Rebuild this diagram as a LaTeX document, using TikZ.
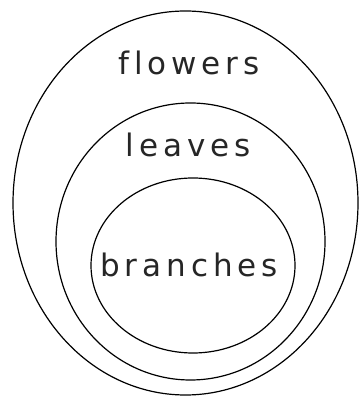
\documentclass[tikz,border=0pt]{standalone}
\usepackage{fontspec}
\setsansfont{DejaVu Sans}[LetterSpace=16, Ligatures={NoCommon}]
\usepackage{tikz}
\usetikzlibrary{shapes.geometric, positioning}

\begin{document}
\begin{tikzpicture}[x=1pt, y=1pt, every node/.style={font=\sffamily\fontsize{31}{31}\selectfont}]
    % Styles
    \tikzstyle{ring} = [ellipse, draw=black, line width=1.2pt, inner sep=0pt]
    \tikzstyle{tag} = [anchor=base, inner sep=0pt, text=black!85]

    \useasboundingbox (0,0) rectangle (362,401);

    % Sets
    \node[ring, minimum width=345pt, minimum height=384pt] (flowerset) at (185.5,198) {};
    \node[ring, minimum width=269pt, minimum height=277pt] (leafset) at (190.5,159.5) {};
    \node[ring, minimum width=204pt, minimum height=175pt] (branchset) at (193,135.5) {};

    % Labels
    \node[tag] (flowers) at (189,326) {flowers};
    \node[tag] (leaves) at (188,244) {leaves};
    \node[tag] (branches) at (189,124) {branches};
\end{tikzpicture}
\end{document}
